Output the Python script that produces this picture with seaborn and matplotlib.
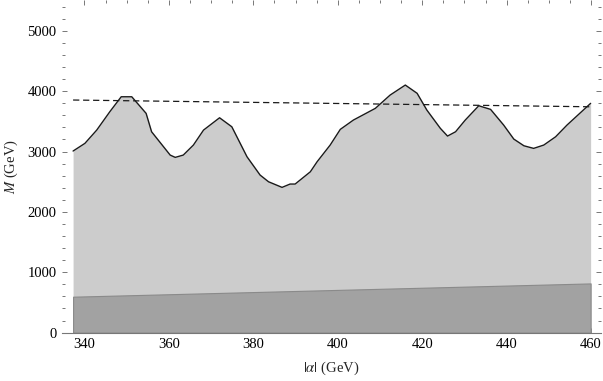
import matplotlib
matplotlib.use('Agg')
import matplotlib.pyplot as plt
import numpy as np
import pandas as pd
import seaborn as sns

# upper bound curve
alpha = [337.3, 340.1, 342.9, 346.0, 348.7, 351.2, 354.6, 355.9, 360.3, 361.5,
         363.4, 365.8, 368.2, 372.0, 374.9, 378.5, 381.6, 383.6, 386.8, 388.7,
         389.9, 393.5, 395.1, 398.2, 400.6, 403.7, 408.9, 412.4, 416.0, 418.8,
         421.1, 424.3, 426.0, 427.9, 430.2, 433.4, 436.2, 439.3, 441.7, 444.1,
         446.4, 448.8, 451.6, 454.3, 459.9]
mass = [3008, 3135, 3355, 3659, 3907, 3907, 3632, 3327, 2941, 2903,
        2941, 3107, 3355, 3559, 3410, 2913, 2610, 2499, 2406, 2461,
        2461, 2664, 2830, 3107, 3367, 3521, 3715, 3935, 4101, 3964,
        3687, 3384, 3256, 3327, 3521, 3758, 3698, 3438, 3206, 3095,
        3052, 3107, 3244, 3438, 3798]

# dashed reference line and lower (dark) band
line_x = [337.3, 459.9]
dashed_m = [3853, 3741]
lower_m = [595, 815]

df = pd.DataFrame({'alpha': alpha, 'M': mass})
df_line = pd.DataFrame({'alpha': line_x, 'M': dashed_m, 'low': lower_m})

sns.set_theme(style='ticks')
plt.rcParams['font.family'] = ['Liberation Serif', 'DejaVu Serif']
plt.rcParams['mathtext.fontset'] = 'stix'

fig, ax = plt.subplots(figsize=(6.03, 3.81), dpi=100)
fig.subplots_adjust(left=0.103, right=0.997, bottom=0.127, top=1.0)

ax.fill_between(df['alpha'], 0, df['M'], color='#cccccc', lw=0, zorder=1)
ax.fill_between(df_line['alpha'], 0, df_line['low'], color='#a2a2a2',
                edgecolor='#8a8a8a', lw=0.8, zorder=2)
sns.lineplot(data=df, x='alpha', y='M', ax=ax, color='#1a1a1a', lw=1.0,
             sort=False, zorder=3)
sns.lineplot(data=df_line, x='alpha', y='M', ax=ax, color='#1a1a1a', lw=0.9,
             linestyle=(0, (5, 3)), zorder=3)

ax.set_xlim(334.7, 462.4)
ax.set_ylim(0, 5510)

ax.set_xticks(np.arange(340, 461, 20))
ax.set_xticks(np.arange(340, 461, 5), minor=True)
ax.set_yticks(np.arange(0, 5001, 1000))
ax.set_yticks(np.arange(0, 5401, 200), minor=True)

for s in ['left', 'top', 'right']:
    ax.spines[s].set_visible(False)
ax.spines['bottom'].set_color('#777777')
ax.spines['bottom'].set_linewidth(0.8)

ax.tick_params(which='both', direction='in', top=True, right=True,
               color='#777777', width=0.7, labelsize=10.5, labelcolor='black')
ax.tick_params(which='major', length=3.5, pad=4)
ax.tick_params(which='minor', length=2)

ax.set_xlabel(r'$|\alpha|$ (GeV)', fontsize=10.5, labelpad=6)
ax.set_ylabel(r'$M$ (GeV)', fontsize=10.5, labelpad=5)

fig.savefig('out.png', dpi=100)
